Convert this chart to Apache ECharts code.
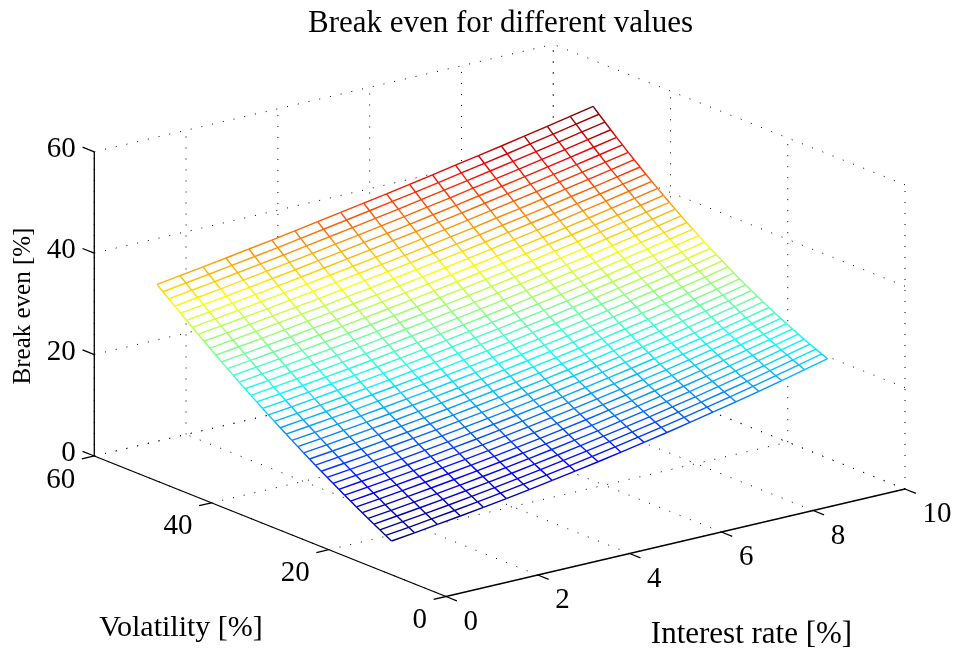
<!DOCTYPE html>
<html>
<head>
<meta charset="utf-8">
<style>html,body{margin:0;padding:0;background:#fff}#c{width:955px;height:650px}</style>
<script src="https://cdn.jsdelivr.net/npm/echarts@6/dist/echarts.min.js"></script>
</head>
<body>
<div id="c"></div>
<script>
var rateTicks = [0, 2, 4, 6, 8, 10];
var volTicks = [0, 20, 40, 60];
var zTicks = [0, 20, 40, 60];
var titleText = 'Break even for different values';
var xName = 'Interest rate [%]';
var yName = 'Volatility [%]';
var zName = 'Break even [%]';
var rates = [0.5,1,1.5,2,2.5,3,3.5,4,4.5,5,5.5,6,6.5,7,7.5,8,8.5,9,9.5,10];
var vols = [13.2,14.2,15.2,16.2,17.2,18.2,19.2,20.2,21.2,22.2,23.2,24.2,25.2,26.2,27.2,28.2,29.2,30.2,31.2,32.2,33.2,34.2,35.2,36.2,37.2,38.2,39.2,40.2,41.2,42.2,43.2,44.2,45.2,46.2,47.2,48.2,49.2,50.2,51.2,52.2,53.2];
var r00 = [3.79,4.43,5.07,5.73,6.39,7.06,7.74,8.43,9.13,9.83,10.55,11.27,12.0,12.74,13.49,14.24,15.01,15.78,16.56,17.35,18.15,18.96,19.77,20.6,21.43,22.27,23.12,23.98,24.85,25.72,26.61,27.5,28.4,29.31,30.23,31.15,32.09,33.03,33.98,34.94,35.91];
var r01 = [4.34,4.97,5.62,6.27,6.92,7.59,8.27,8.96,9.65,10.36,11.07,11.79,12.52,13.26,14.01,14.77,15.53,16.31,17.09,17.88,18.68,19.49,20.31,21.14,21.98,22.83,23.68,24.54,25.42,26.3,27.19,28.09,29.0,29.91,30.84,31.77,32.72,33.67,34.63,35.6,36.58];
var r02 = [4.93,5.56,6.19,6.84,7.50,8.16,8.84,9.52,10.21,10.91,11.62,12.34,13.07,13.81,14.56,15.32,16.08,16.86,17.65,18.44,19.24,20.05,20.88,21.71,22.55,23.40,24.26,25.13,26.01,26.89,27.79,28.69,29.61,30.53,31.46,32.41,33.36,34.32,35.29,36.27,37.26];
var r03 = [5.54,6.16,6.79,7.44,8.09,8.75,9.42,10.10,10.79,11.49,12.20,12.92,13.65,14.39,15.14,15.89,16.66,17.44,18.22,19.02,19.82,20.64,21.46,22.30,23.14,23.99,24.86,25.73,26.61,27.50,28.40,29.31,30.23,31.16,32.10,33.05,34.01,34.98,35.96,36.95,37.95];
var r04 = [6.19,6.81,7.43,8.07,8.72,9.37,10.04,10.72,11.40,12.10,12.81,13.52,14.25,14.99,15.73,16.49,17.26,18.03,18.82,19.62,20.42,21.24,22.07,22.90,23.75,24.61,25.47,26.35,27.24,28.13,29.04,29.96,30.88,31.82,32.77,33.72,34.69,35.67,36.65,37.65,38.66];
var r05 = [6.86,7.47,8.09,8.72,9.36,10.01,10.68,11.35,12.04,12.73,13.43,14.15,14.87,15.61,16.35,17.11,17.87,18.65,19.44,20.23,21.04,21.86,22.69,23.52,24.37,25.23,26.10,26.98,27.87,28.77,29.68,30.60,31.53,32.48,33.43,34.39,35.36,36.35,37.34,38.35,39.36];
var r06 = [7.57,8.17,8.79,9.41,10.05,10.70,11.36,12.02,12.70,13.39,14.09,14.80,15.53,16.26,17.00,17.76,18.53,19.30,20.09,20.89,21.70,22.52,23.35,24.19,25.04,25.90,26.77,27.66,28.55,29.46,30.37,31.30,32.24,33.18,34.14,35.11,36.09,37.08,38.08,39.10,40.12];
var r07 = [8.31,8.91,9.52,10.13,10.76,11.41,12.06,12.72,13.40,14.08,14.78,15.49,16.21,16.94,17.68,18.43,19.20,19.97,20.76,21.56,22.37,23.19,24.02,24.86,25.71,26.58,27.45,28.34,29.24,30.14,31.06,31.99,32.94,33.89,34.85,35.83,36.82,37.82,38.82,39.84,40.88];
var r08 = [9.08,9.67,10.27,10.88,11.51,12.14,12.79,13.45,14.12,14.80,15.49,16.20,16.91,17.64,18.38,19.13,19.89,20.67,21.45,22.25,23.06,23.88,24.71,25.55,26.41,27.27,28.15,29.04,29.94,30.85,31.77,32.71,33.66,34.61,35.58,36.57,37.56,38.56,39.58,40.61,41.65];
var r09 = [9.88,10.46,11.06,11.66,12.28,12.91,13.55,14.20,14.87,15.55,16.23,16.94,17.65,18.37,19.11,19.86,20.62,21.39,22.17,22.97,23.78,24.60,25.43,26.27,27.13,27.99,28.87,29.76,30.66,31.58,32.50,33.44,34.39,35.35,36.32,37.31,38.31,39.32,40.34,41.37,42.41];
var r10 = [10.71,11.28,11.87,12.47,13.08,13.70,14.33,14.98,15.64,16.31,16.99,17.69,18.40,19.12,19.85,20.60,21.35,22.12,22.90,23.70,24.50,25.32,26.15,26.99,27.85,28.71,29.59,30.48,31.39,32.30,33.23,34.17,35.12,36.09,37.07,38.06,39.06,40.07,41.10,42.14,43.19];
var r11 = [11.58,12.14,12.72,13.31,13.91,14.53,15.15,15.79,16.45,17.11,17.79,18.48,19.18,19.90,20.63,21.37,22.12,22.89,23.67,24.46,25.26,26.08,26.91,27.75,28.60,29.47,30.35,31.24,32.15,33.07,34.00,34.94,35.90,36.87,37.85,38.84,39.85,40.87,41.90,42.94,44.00];
var r12 = [12.47,13.03,13.59,14.17,14.77,15.38,16.00,16.63,17.28,17.94,18.61,19.29,19.99,20.70,21.43,22.16,22.91,23.68,24.45,25.24,26.04,26.86,27.69,28.53,29.38,30.25,31.13,32.02,32.93,33.85,34.78,35.72,36.68,37.65,38.64,39.63,40.64,41.67,42.70,43.75,44.81];
var r13 = [13.40,13.95,14.50,15.08,15.66,16.26,16.87,17.50,18.14,18.79,19.46,20.14,20.83,21.54,22.26,22.99,23.74,24.50,25.27,26.06,26.86,27.67,28.50,29.34,30.19,31.06,31.94,32.83,33.74,34.66,35.59,36.54,37.50,38.47,39.46,40.46,41.47,42.50,43.54,44.59,45.66];
var r14 = [14.35,14.89,15.43,16.00,16.57,17.16,17.77,18.39,19.02,19.66,20.32,21.00,21.68,22.38,23.10,23.83,24.57,25.32,26.09,26.88,27.67,28.48,29.31,30.14,31.00,31.86,32.74,33.64,34.54,35.46,36.40,37.35,38.31,39.28,40.27,41.28,42.29,43.32,44.37,45.43,46.50];
var r15 = [15.34,15.86,16.40,16.96,17.52,18.10,18.70,19.31,19.93,20.57,21.22,21.89,22.57,23.26,23.97,24.69,25.43,26.18,26.94,27.72,28.51,29.32,30.14,30.97,31.82,32.68,33.56,34.45,35.36,36.28,37.21,38.16,39.12,40.10,41.09,42.09,43.11,44.14,45.19,46.25,47.32];
var r16 = [16.36,16.87,17.40,17.95,18.50,19.07,19.66,20.26,20.88,21.51,22.15,22.81,23.48,24.17,24.87,25.59,26.32,27.06,27.82,28.60,29.39,30.19,31.01,31.84,32.69,33.55,34.43,35.32,36.22,37.14,38.08,39.03,39.99,40.97,41.96,42.96,43.99,45.02,46.07,47.14,48.22];
var r17 = [17.41,17.91,18.43,18.96,19.51,20.07,20.65,21.24,21.85,22.47,23.10,23.75,24.42,25.10,25.80,26.51,27.23,27.97,28.73,29.50,30.28,31.08,31.89,32.72,33.57,34.42,35.30,36.19,37.09,38.01,38.94,39.89,40.85,41.83,42.82,43.83,44.85,45.89,46.94,48.01,49.09];
var r18 = [18.49,18.98,19.49,20.01,20.54,21.09,21.66,22.24,22.84,23.45,24.08,24.72,25.38,26.05,26.74,27.44,28.16,28.89,29.64,30.41,31.19,31.98,32.79,33.62,34.46,35.32,36.19,37.08,37.98,38.89,39.83,40.77,41.74,42.71,43.71,44.72,45.74,46.78,47.83,48.90,49.99];
var r19 = [19.6,20.08,20.57,21.08,21.60,22.14,22.70,23.27,23.86,24.46,25.08,25.71,26.36,27.03,27.71,28.41,29.12,29.85,30.59,31.35,32.12,32.91,33.72,34.54,35.38,36.23,37.10,37.98,38.88,39.80,40.73,41.67,42.63,43.61,44.60,45.61,46.63,47.67,48.73,49.80,50.89];

var table = [r00,r01,r02,r03,r04,r05,r06,r07,r08,r09,r10,r11,r12,r13,r14,r15,r16,r17,r18,r19];

// orthographic view of the 3D box (matches the reference's camera)
function project(r, v, z) {
  return [446 + 45.9 * r - 5.862 * v, 596.5 - 10.75 * r - 2.342 * v - 5.07 * z];
}
function seg(a, b, val) {
  var p = project(a[0], a[1], a[2]), q = project(b[0], b[1], b[2]);
  return [p[0], p[1], q[0], q[1], val];
}
var zMin = Infinity, zMax = -Infinity;
table.forEach(function (c) { c.forEach(function (z) { zMin = Math.min(zMin, z); zMax = Math.max(zMax, z); }); });

function jet(t) {
  t = Math.floor(Math.max(0, Math.min(0.9999, t)) * 64) / 63;
  function ramp(x) { return Math.max(0, Math.min(1, x)); }
  var r = ramp(Math.min(4 * t - 1.5, -4 * t + 4.5));
  var g = ramp(Math.min(4 * t - 0.5, -4 * t + 3.5));
  var b = ramp(Math.min(4 * t + 0.5, -4 * t + 2.5));
  return 'rgb(' + Math.round(r * 255) + ',' + Math.round(g * 255) + ',' + Math.round(b * 255) + ')';
}

var gridSegs = [];
var R0 = rateTicks[0], R1 = rateTicks[rateTicks.length - 1];
var V0 = volTicks[0], V1 = volTicks[volTicks.length - 1];
var Z0 = zTicks[0], Z1 = zTicks[zTicks.length - 1];
rateTicks.forEach(function (r) {
  gridSegs.push(seg([r, V0, 0], [r, V1, 0], 0));
  gridSegs.push(seg([r, V1, Z0], [r, V1, Z1], 0));
});
volTicks.forEach(function (v) {
  gridSegs.push(seg([R0, v, 0], [R1, v, 0], 0));
  gridSegs.push(seg([R1, v, Z0], [R1, v, Z1], 0));
});
zTicks.forEach(function (z) {
  gridSegs.push(seg([R0, V1, z], [R1, V1, z], 0));
  gridSegs.push(seg([R1, V0, z], [R1, V1, z], 0));
});

var meshSegs = [];
table.forEach(function (col, k) {
  col.forEach(function (z, i) {
    if (i + 1 < col.length) {
      meshSegs.push(seg([rates[k], vols[i], z], [rates[k], vols[i + 1], col[i + 1]], (z + col[i + 1]) / 2));
    }
    if (k + 1 < table.length) {
      meshSegs.push(seg([rates[k], vols[i], z], [rates[k + 1], vols[i], table[k + 1][i]], (z + table[k + 1][i]) / 2));
    }
  });
});

var boundary = [];
var nR = rates.length, nV = vols.length;
for (var a = 0; a < nR; a++) boundary.push(project(rates[a], vols[0], table[a][0]));
for (var b = 1; b < nV; b++) boundary.push(project(rates[nR - 1], vols[b], table[nR - 1][b]));
for (var c = nR - 2; c >= 0; c--) boundary.push(project(rates[c], vols[nV - 1], table[c][nV - 1]));
for (var d = nV - 2; d > 0; d--) boundary.push(project(rates[0], vols[d], table[0][d]));

var axisSegs = [
  seg([R0, V0, 0], [R1, V0, 0], 0),
  seg([R0, V0, 0], [R0, V1, 0], 0),
  seg([R0, V1, Z0], [R0, V1, Z1], 0)
];
rateTicks.forEach(function (r) { axisSegs.push(seg([r, V0, 0], [r, -1.85, 0], 0)); });
volTicks.forEach(function (v) { axisSegs.push(seg([R0, v, 0], [-0.27, v, 0], 0)); });
zTicks.forEach(function (z) { axisSegs.push(seg([R0, V1, z], [R0, 62, z], 0)); });

var tickLabels = [];
rateTicks.forEach(function (r) { var p = project(r, V0, 0); tickLabels.push([p[0], p[1], String(r), 'r']); });
volTicks.forEach(function (v) { var p = project(R0, v, 0); tickLabels.push([p[0], p[1], String(v), 'v']); });
zTicks.forEach(function (z) { var p = project(R0, V1, z); tickLabels.push([p[0], p[1], String(z), 'z']); });

function lineSeries(data, z, styler) {
  return {
    type: 'custom', coordinateSystem: 'cartesian2d', silent: true, z: z, animation: false,
    progressive: 0, clip: false, encode: { x: [0, 2], y: [1, 3] }, data: data,
    renderItem: function (params, api) {
      var p = api.coord([api.value(0), api.value(1)]);
      var q = api.coord([api.value(2), api.value(3)]);
      return { type: 'line', shape: { x1: p[0], y1: p[1], x2: q[0], y2: q[1] }, style: styler(api.value(4)) };
    }
  };
}

var FONT = '"Liberation Serif", serif';
var chart = echarts.init(document.getElementById('c'), null, { renderer: 'canvas' });
chart.setOption({
  animation: false,
  backgroundColor: '#fff',
  grid: { left: 0, right: 0, top: 0, bottom: 0 },
  xAxis: { type: 'value', min: 0, max: 955, show: false },
  yAxis: { type: 'value', min: 0, max: 650, inverse: true, show: false },
  title: {
    text: titleText, left: 495.5, top: 3, textAlign: 'center',
    textStyle: { fontFamily: FONT, fontSize: 31, fontWeight: 'normal', color: '#000' }
  },
  graphic: [
    { type: 'text', x: 181, y: 628, silent: true, style: { text: yName, fill: '#000', font: '30px ' + FONT, align: 'center', verticalAlign: 'middle' } },
    { type: 'text', x: 751.5, y: 635, silent: true, style: { text: xName, fill: '#000', font: '31px ' + FONT, align: 'center', verticalAlign: 'middle' } },
    { type: 'text', x: 23, y: 306, rotation: Math.PI / 2, silent: true, style: { text: zName, fill: '#000', font: '25px ' + FONT, align: 'center', verticalAlign: 'middle' } }
  ],
  series: [
    lineSeries(gridSegs, 1, function () { return { stroke: '#000', lineWidth: 1, lineDash: [1, 10] }; }),
    {
      type: 'custom', coordinateSystem: 'cartesian2d', silent: true, z: 2, animation: false, clip: false,
      data: [[0, 0]],
      renderItem: function (params, api) {
        return { type: 'polygon', shape: { points: boundary.map(function (p) { return api.coord(p); }) }, style: { fill: '#fff' } };
      }
    },
    lineSeries(meshSegs, 3, function (val) { return { stroke: jet((val - zMin) / (zMax - zMin)), lineWidth: 1.4 }; }),
    lineSeries(axisSegs, 4, function () { return { stroke: '#000', lineWidth: 1.3 }; }),
    {
      type: 'custom', coordinateSystem: 'cartesian2d', silent: true, z: 5, animation: false, clip: false,
      progressive: 0, encode: { x: 0, y: 1 },
      data: tickLabels,
      renderItem: function (params, api) {
        var it = tickLabels[params.dataIndex];
        var p = api.coord([it[0], it[1]]);
        var kind = it[3], x, y, align;
        if (kind === 'r') { x = p[0] + 17.5; y = p[1] + 25.5; align = 'left'; }
        else if (kind === 'v') { x = p[0] - 19; y = p[1] + 24; align = 'right'; }
        else { x = p[0] - 18.5; y = p[1] - 2.5; align = 'right'; }
        return { type: 'text', style: { x: x, y: y, text: it[2], fill: '#000', font: '29px ' + FONT, align: align, verticalAlign: 'middle' } };
      }
    }
  ]
});
</script>
</body>
</html>
